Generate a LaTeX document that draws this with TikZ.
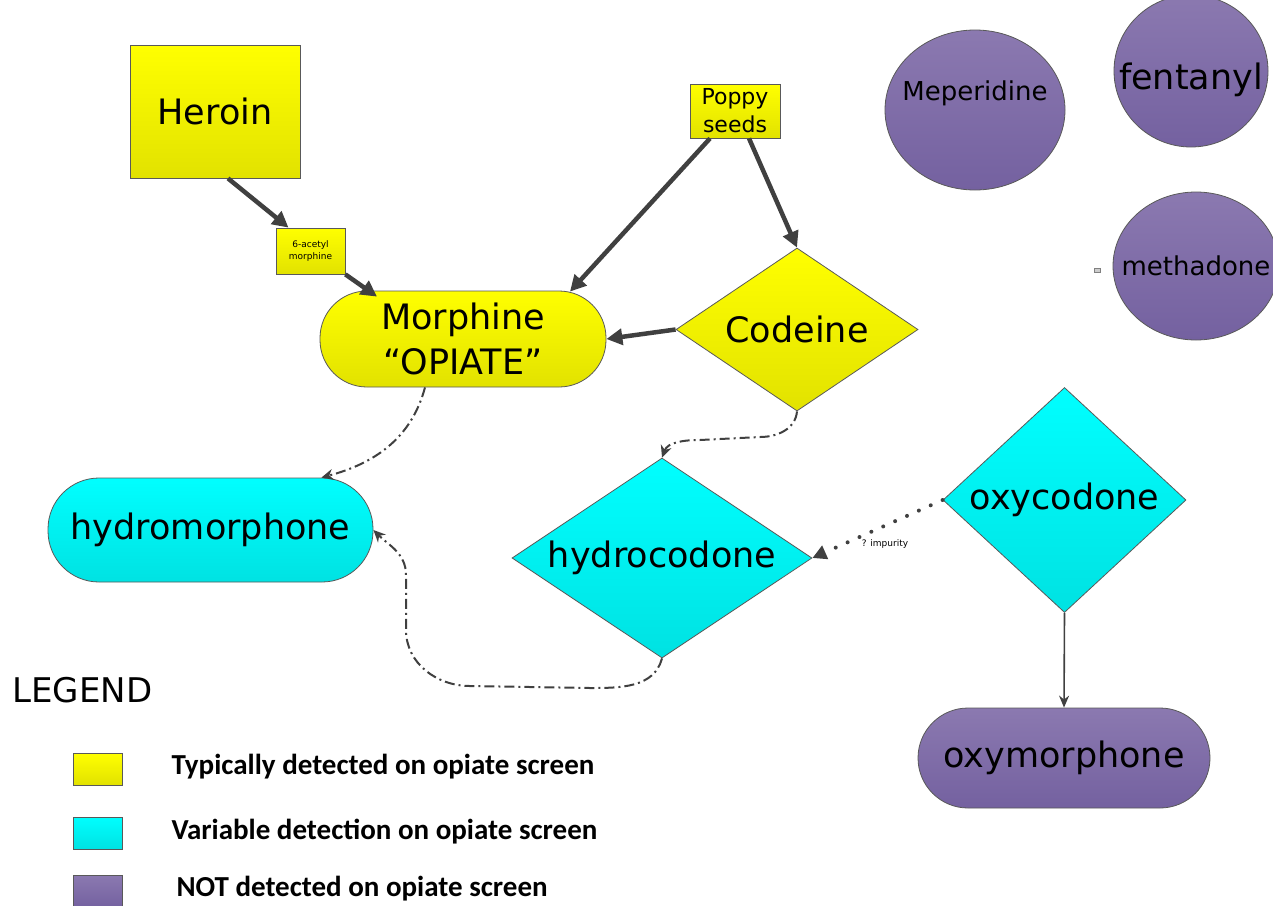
\documentclass[tikz,border=0pt]{standalone}
\usepackage{fontspec}
\setmainfont{DejaVu Sans}
\newfontfamily\legfont{Carlito}
\usetikzlibrary{shapes.geometric,arrows.meta}

\definecolor{ylwtop}{HTML}{FFFF00}
\definecolor{ylwbot}{HTML}{E2E200}
\definecolor{cyntop}{HTML}{00FFFF}
\definecolor{cynbot}{HTML}{00E2E2}
\definecolor{prptop}{HTML}{8B79B0}
\definecolor{prpbot}{HTML}{7461A0}
\definecolor{arrgray}{HTML}{404040}

\begin{document}
\begin{tikzpicture}[x=1pt,y=1pt,
  ylw/.style={draw=gray!70!black,line width=0.8pt,top color=ylwtop,bottom color=ylwbot,inner sep=0pt,align=center},
  cyn/.style={draw=gray!70!black,line width=0.8pt,top color=cyntop,bottom color=cynbot,inner sep=0pt,align=center},
  prp/.style={draw=gray!70!black,line width=0.8pt,top color=prptop,bottom color=prpbot,inner sep=0pt,align=center},
  big/.style={font=\fontsize{35}{45}\selectfont},
  thickarr/.style={draw=arrgray,line width=4.5pt,-{Triangle[length=16pt,width=16pt]}},
  dashdotarr/.style={draw=arrgray,line width=2pt,dash pattern=on 10pt off 4pt on 2pt off 4pt,-{Stealth[length=12pt,width=11pt]}},
  dotarr/.style={draw=arrgray,line width=4pt,line cap=round,dash pattern=on 0pt off 13pt,-{Triangle[length=14pt,width=14pt]}},
  legbox/.style={draw=gray!70!black,line width=0.8pt,minimum width=49,minimum height=32,inner sep=0pt},
  legtxt/.style={anchor=west,font=\legfont\bfseries\fontsize{29}{34}\selectfont}]
\useasboundingbox (0,0) rectangle (1273,-905);

% yellow group
\node[ylw,big,minimum width=170,minimum height=133] (heroin) at (215,-111.5) {Heroin};
\node[ylw,minimum width=69,minimum height=46,font=\fontsize{9}{12}\selectfont] (acetyl) at (310.5,-251) {6-acetyl\\morphine};
\node[ylw,big,rounded corners=47pt,minimum width=286,minimum height=96] (morph) at (463,-339) {Morphine\\“OPIATE”};
\node[ylw,minimum width=90,minimum height=54,font=\fontsize{22}{28}\selectfont] (poppy) at (735,-111) {Poppy\\seeds};
\node[ylw,big,diamond,aspect=1.48,minimum width=242,minimum height=163] (codeine) at (797,-329.5) {Codeine};

% cyan group
\node[cyn,big,rounded corners=51pt,minimum width=325,minimum height=104] (hmor) at (210.5,-530) {hydromorphone};
\node[cyn,big,diamond,aspect=1.5,minimum width=300,minimum height=200] (hcod) at (662,-558) {hydrocodone};
\node[cyn,big,diamond,aspect=1.08,minimum width=243,minimum height=225] (oxyc) at (1064.5,-500) {oxycodone};

% purple group
\node[prp,big,rounded corners=50pt,minimum width=292,minimum height=100] (oxym) at (1064,-758) {oxymorphone};
\node[prp,ellipse,minimum width=180,minimum height=160,
  label={[yshift=17pt,font=\fontsize{26}{30}\selectfont]center:Meperidine}] (meper) at (975,-110) {};
\node[prp,ellipse,minimum width=154,minimum height=152,
  label={[yshift=-9pt,font=\fontsize{35}{40}\selectfont]center:fentanyl}] (fent) at (1191,-71) {};
\node[prp,ellipse,minimum width=166,minimum height=148,
  label={[font=\fontsize{26}{30}\selectfont]center:methadone}] (metha) at (1196,-266) {};
\node[draw=gray,fill=gray!40,minimum width=6,minimum height=4,inner sep=0pt] (mark) at (1097,-270) {};

% connectors
\draw[thickarr] ([xshift=13]heroin.south) -- ([xshift=-22]acetyl.north);
\draw[thickarr] (acetyl.south east) -- ([xshift=-86,yshift=-6]morph.north);
\draw[thickarr] ([xshift=-25]poppy.south) -- ([xshift=107,yshift=-1]morph.north);
\draw[thickarr] ([xshift=14]poppy.south) -- (codeine.north);
\draw[thickarr] (codeine.west) -- (morph.east);
\draw[dashdotarr] ([xshift=-38]morph.south) to[out=-105,in=15] ([xshift=-52]hmor.north east);
\draw[dashdotarr] (codeine.south) to[out=-95,in=0] (760,-437) -- (700,-440) to[out=180,in=70] (hcod.north);
\draw[dashdotarr] (hcod.south) to[out=-105,in=0] (590,-688) -- (470,-686) to[out=180,in=-90] (406,-630) -- (406,-575) to[out=90,in=-45] (hmor.east);
\draw[dotarr] (oxyc.west) -- (hcod.east);
\node[font=\fontsize{9}{11}\selectfont] (impur) at (885,-544) {? impurity};
\draw[draw=arrgray,line width=1.6pt,-{Stealth[length=12pt,width=10pt]}] (oxyc.south) -- (oxym.north);

% legend
\node[anchor=west,font=\fontsize{34}{38}\selectfont] (legend) at (9,-690) {LEGEND};
\node[legbox,top color=ylwtop,bottom color=ylwbot] (lgy) at (97.5,-769) {};
\node[legbox,top color=cyntop,bottom color=cynbot] (lgc) at (97.5,-833) {};
\node[legbox,top color=prptop,bottom color=prpbot] (lgp) at (97.5,-891) {};
\node[legtxt] (ty) at (168,-767) {Typically detected on opiate screen};
\node[legtxt] (tc) at (168,-832) {Variable detection on opiate screen};
\node[legtxt] (tp) at (173,-889) {NOT detected on opiate screen};
\end{tikzpicture}
\end{document}
